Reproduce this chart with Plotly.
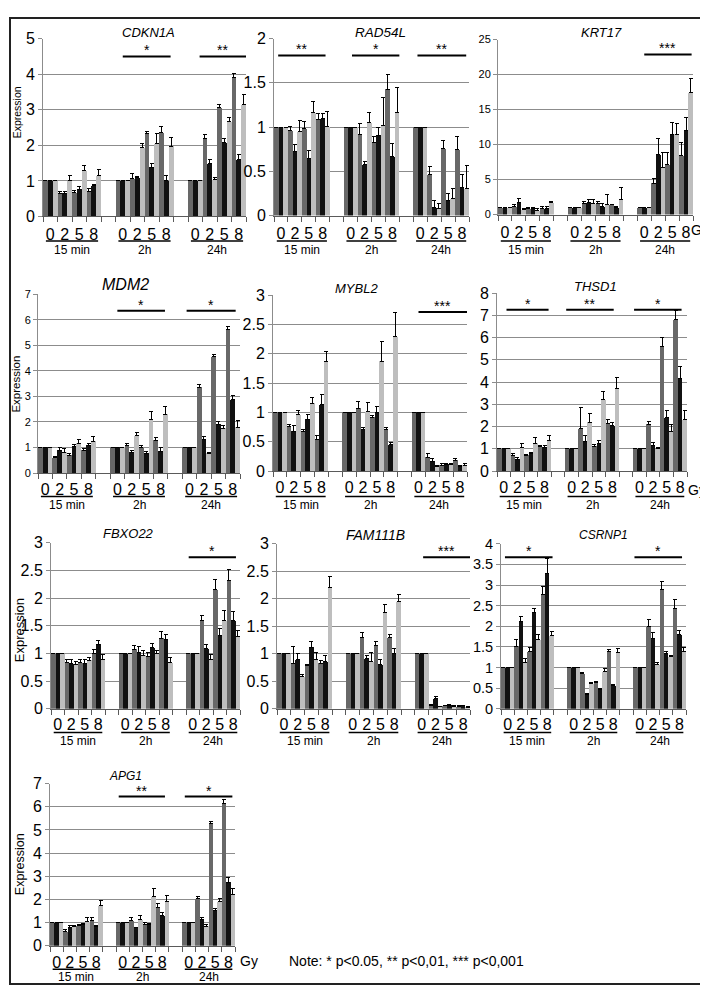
import plotly.graph_objects as go

FIG_W, FIG_H = 708, 988

GENES = ["CDKN1A", "RAD54L", "KRT17", "MDM2", "MYBL2", "THSD1",
         "FBXO22", "FAM111B", "CSRNP1", "APG1"]
TIME_LABELS = ["15 min", "2h", "24h"]
DOSE_LABELS = ["0", "2", "5", "8"]
NOTE_TEXT = "Note: * p<0.05, ** p<0,01, *** p<0,001"

# order of each list: 15 min (0,2,5,8 Gy) | 2h (0,2,5,8) | 24h (0,2,5,8)
CDKN1A_dark = [1, 0.65, 0.68, 0.69, 1, 1.06, 2.33, 2.37, 1, 2.19, 3.05, 3.90]
CDKN1A_dark_err = [0, 0.04, 0.05, 0.10, 0, 0.14, 0.06, 0.15, 0, 0.11, 0.09, 0.11]
CDKN1A_black = [1, 0.66, 0.77, 0.86, 1, 1.09, 1.39, 1.01, 1, 1.50, 2.08, 1.60]
CDKN1A_black_err = [0, 0.05, 0.07, 0.05, 0, 0.03, 0.09, 0.13, 0, 0.09, 0.10, 0.13]
CDKN1A_light = [1, 1.02, 1.28, 1.15, 1, 1.94, 2.04, 1.98, 1, 1.05, 2.67, 3.14]
CDKN1A_light_err = [0, 0.13, 0.14, 0.18, 0, 0.10, 0.30, 0.25, 0, 0.05, 0.12, 0.28]

RAD54L_dark = [1, 0.96, 0.98, 1.08, 1, 0.92, 0.82, 1.43, 1, 0.46, 0.76, 0.75]
RAD54L_dark_err = [0, 0.05, 0.08, 0.07, 0, 0.12, 0.07, 0.16, 0, 0.09, 0.09, 0.14]
RAD54L_black = [1, 0.72, 0.65, 1.10, 1, 0.58, 0.91, 0.67, 1, 0.09, 0.17, 0.32]
RAD54L_black_err = [0, 0.08, 0.08, 0.05, 0, 0.03, 0.09, 0.14, 0, 0.08, 0.08, 0.14]
RAD54L_light = [1, 0.95, 1.16, 1.01, 1, 1.05, 1.02, 1.17, 1, 0.08, 0.19, 0.30]
RAD54L_light_err = [0, 0.12, 0.13, 0.17, 0, 0.12, 0.31, 0.28, 0, 0.06, 0.12, 0.27]

KRT17_dark = [1, 1.2, 0.9, 0.9, 1, 1.6, 1.6, 1.4, 1, 4.5, 7.2, 8.4]
KRT17_dark_err = [0, 0.3, 0.1, 0.3, 0, 0.3, 0.3, 0.1, 0, 0.6, 1.6, 1.9]
KRT17_black = [1, 1.7, 0.8, 0.8, 1, 1.7, 1.2, 1.0, 1, 8.6, 11.5, 12.0]
KRT17_black_err = [0, 0.6, 0.2, 0.4, 0, 0.5, 0.4, 0.1, 0, 2.2, 1.6, 1.8]
KRT17_light = [1, 0.7, 0.6, 1.7, 1, 1.6, 1.5, 2.1, 1, 6.7, 11.5, 17.4]
KRT17_light_err = [0, 0.1, 0.2, 0.1, 0, 0.6, 1.4, 1.8, 0, 2.1, 1.5, 2.0]

MDM2_dark = [1, 0.60, 0.70, 0.90, 1, 1.06, 0.98, 1.28, 1, 3.35, 4.55, 5.62]
MDM2_dark_err = [0, 0.04, 0.06, 0.06, 0, 0.11, 0.08, 0.12, 0, 0.10, 0.10, 0.13]
MDM2_black = [1, 0.90, 1.02, 1.08, 1, 0.82, 0.76, 0.86, 1, 1.33, 1.90, 2.87]
MDM2_black_err = [0, 0.08, 0.08, 0.06, 0, 0.05, 0.08, 0.14, 0, 0.10, 0.10, 0.16]
MDM2_light = [1, 0.82, 1.15, 1.25, 1, 1.45, 2.10, 2.30, 1, 0.78, 1.75, 1.78]
MDM2_light_err = [0, 0.15, 0.17, 0.17, 0, 0.13, 0.30, 0.30, 0, 0.04, 0.10, 0.27]

MYBL2_dark = [1, 0.76, 0.68, 0.53, 1, 1.07, 0.92, 0.71, 1, 0.23, 0.10, 0.18]
MYBL2_dark_err = [0, 0.04, 0.02, 0.07, 0, 0.12, 0.03, 0.03, 0, 0.07, 0.02, 0.03]
MYBL2_black = [1, 0.68, 0.88, 1.13, 1, 0.70, 1.00, 0.45, 1, 0.17, 0.11, 0.08]
MYBL2_black_err = [0, 0.10, 0.09, 0.17, 0, 0.04, 0.10, 0.04, 0, 0.05, 0.02, 0.02]
MYBL2_light = [1, 0.96, 1.16, 1.87, 1, 1.01, 1.87, 2.29, 1, 0.07, 0.11, 0.10]
MYBL2_light_err = [0, 0.07, 0.10, 0.16, 0, 0.16, 0.34, 0.41, 0, 0.02, 0.02, 0.02]

THSD1_dark = [1, 0.70, 0.72, 1.10, 1, 1.90, 1.12, 2.15, 1, 2.10, 5.60, 6.80]
THSD1_dark_err = [0, 0.10, 0.02, 0.05, 0, 0.95, 0.08, 0.15, 0, 0.15, 0.40, 0.40]
THSD1_black = [1, 0.52, 0.78, 1.07, 1, 1.33, 1.25, 2.03, 1, 1.15, 2.40, 4.15]
THSD1_black_err = [0, 0.08, 0.07, 0.08, 0, 0.27, 0.13, 0.17, 0, 0.15, 0.30, 0.55]
THSD1_light = [1, 1.05, 1.25, 1.38, 1, 2.20, 3.20, 3.70, 1, 1.00, 1.80, 2.30]
THSD1_light_err = [0, 0.20, 0.25, 0.22, 0, 0.40, 0.37, 0.50, 0, 0.05, 0.30, 0.40]

FBXO22_dark = [1, 0.83, 0.83, 1.00, 1, 1.08, 0.95, 1.28, 1, 1.60, 2.15, 2.32]
FBXO22_dark_err = [0, 0.07, 0.07, 0.07, 0, 0.06, 0.07, 0.11, 0, 0.08, 0.18, 0.19]
FBXO22_black = [1, 0.82, 0.82, 1.17, 1, 1.02, 1.10, 1.26, 1, 1.09, 1.33, 1.60]
FBXO22_black_err = [0, 0.07, 0.07, 0.06, 0, 0.10, 0.08, 0.08, 0, 0.08, 0.12, 0.15]
FBXO22_light = [1, 0.80, 0.88, 0.90, 1, 0.97, 1.00, 0.83, 1, 0.90, 1.60, 1.30]
FBXO22_light_err = [0, 0.06, 0.04, 0.08, 0, 0.09, 0.05, 0.10, 0, 0.08, 0.17, 0.12]

FAM111B_dark = [1, 0.83, 0.78, 0.83, 1, 1.29, 1.16, 1.29, 1, 0.06, 0.06, 0.04]
FAM111B_dark_err = [0, 0.30, 0.02, 0.05, 0, 0.10, 0.06, 0.07, 0, 0.02, 0.01, 0.02]
FAM111B_black = [1, 0.89, 1.12, 0.86, 1, 0.91, 0.80, 1.00, 1, 0.18, 0.07, 0.06]
FAM111B_black_err = [0, 0.11, 0.10, 0.11, 0, 0.06, 0.10, 0.09, 0, 0.04, 0.01, 0.01]
FAM111B_light = [1, 0.58, 0.90, 2.20, 1, 0.86, 1.76, 1.95, 1, 0.04, 0.05, 0.03]
FAM111B_light_err = [0, 0.04, 0.12, 0.20, 0, 0.16, 0.14, 0.13, 0, 0.01, 0.01, 0.01]

CSRNP1_dark = [1, 1.52, 1.38, 2.76, 1, 0.86, 0.65, 1.38, 1, 2.00, 2.90, 2.43]
CSRNP1_dark_err = [0, 0.16, 0.10, 0.21, 0, 0.02, 0.02, 0.05, 0, 0.16, 0.18, 0.21]
CSRNP1_black = [1, 2.12, 2.33, 3.28, 1, 0.35, 0.47, 0.56, 1, 1.71, 1.33, 1.79]
CSRNP1_black_err = [0, 0.13, 0.11, 0.37, 0, 0.02, 0.03, 0.04, 0, 0.14, 0.05, 0.11]
CSRNP1_light = [1, 1.13, 1.68, 1.77, 1, 0.62, 0.90, 1.37, 1, 1.07, 1.26, 1.38]
CSRNP1_light_err = [0, 0.10, 0.12, 0.10, 0, 0.02, 0.08, 0.09, 0, 0.06, 0.04, 0.11]

APG1_dark = [1, 0.63, 0.88, 1.10, 1, 1.08, 0.93, 1.65, 1, 2.03, 5.28, 6.12]
APG1_dark_err = [0, 0.05, 0.04, 0.10, 0, 0.12, 0.07, 0.17, 0, 0.11, 0.10, 0.18]
APG1_black = [1, 0.80, 0.90, 0.82, 1, 0.78, 0.90, 1.32, 1, 1.12, 1.53, 2.75]
APG1_black_err = [0, 0.06, 0.08, 0.04, 0, 0.02, 0.07, 0.12, 0, 0.08, 0.07, 0.18]
APG1_light = [1, 0.82, 1.05, 1.75, 1, 1.12, 2.12, 1.90, 1, 0.85, 1.92, 2.20]
APG1_light_err = [0, 0.04, 0.15, 0.20, 0, 0.18, 0.33, 0.28, 0, 0.05, 0.13, 0.28]

# significance brackets: (x start, x end, label) in category units
CDKN1A_sig = [(5.0, 8.3, "*"), (10.3, 13.5, "**")]
RAD54L_sig = [(-0.2, 3.2, "**"), (5.1, 8.5, "*"), (9.8, 13.3, "**")]
KRT17_sig = [(10.0, 13.4, "***")]
MDM2_sig = [(5.0, 8.3, "*"), (9.8, 13.2, "*")]
MYBL2_sig = [(10.0, 13.5, "***")]
THSD1_sig = [(0.2, 3.3, "*"), (4.6, 8.1, "**"), (9.6, 13.1, "*")]
FBXO22_sig = [(9.7, 13.2, "*")]
FAM111B_sig = [(10.1, 13.5, "***")]
CSRNP1_sig = [(-0.2, 3.4, "*"), (9.6, 13.2, "*")]
APG1_sig = [(4.7, 8.2, "**"), (9.7, 13.3, "*")]

Y_MAX = {"CDKN1A": 5, "RAD54L": 2, "KRT17": 25, "MDM2": 7, "MYBL2": 3,
         "THSD1": 8, "FBXO22": 3, "FAM111B": 3, "CSRNP1": 4, "APG1": 7}
Y_DTICK = {"CDKN1A": 1, "RAD54L": 0.5, "KRT17": 5, "MDM2": 1, "MYBL2": 0.5,
           "THSD1": 1, "FBXO22": 0.5, "FAM111B": 0.5, "CSRNP1": 0.5, "APG1": 1}

# ---------------- layout / style ----------------
X_POS = [0, 1, 2, 3, 5, 6, 7, 8, 10, 11, 12, 13]
GROUP_START = [0, 5, 10]
# plot boxes in pixels: left, right, top, bottom
BOX = {"CDKN1A": (35, 238, 23, 204), "RAD54L": (266, 461, 23, 203),
       "KRT17": (490, 685, 24, 202), "MDM2": (30, 232, 283, 465),
       "MYBL2": (265, 459, 284, 463), "THSD1": (489, 679, 282, 463),
       "FBXO22": (43, 232, 536, 705), "FAM111B": (269, 462, 537, 705),
       "CSRNP1": (493, 678, 537, 705), "APG1": (42, 227, 781, 946)}
ROW = {"CDKN1A": 0, "RAD54L": 0, "KRT17": 0, "MDM2": 1, "MYBL2": 1, "THSD1": 1,
       "FBXO22": 2, "FAM111B": 2, "CSRNP1": 2, "APG1": 3}
ROW_STANDOFF = [3, 2, 1, 2]
UNDERLINE_Y = [229, 489, 729, 970]
GROUP_LABEL_Y = [238, 498, 738, 978]
TITLE_POS = {"CDKN1A": (140, 17, 13), "RAD54L": (372, 17, 13.5), "KRT17": (593, 17, 13),
             "MDM2": (117, 273, 16), "MYBL2": (348, 277, 13), "THSD1": (587, 275, 13),
             "FBXO22": (120, 527, 13), "FAM111B": (367, 528, 14), "CSRNP1": (595, 528, 12),
             "APG1": (117, 773, 12)}
YTICK_SIZE = {"CDKN1A": 16, "RAD54L": 16, "KRT17": 11, "MDM2": 11, "MYBL2": 16,
              "THSD1": 16, "FBXO22": 16, "FAM111B": 16, "CSRNP1": 14.5, "APG1": 16}
SIG_LEVEL = {"CDKN1A": 0.90, "RAD54L": 0.905, "KRT17": 0.915, "MDM2": 0.907, "MYBL2": 0.904,
             "THSD1": 0.906, "FBXO22": 0.913, "FAM111B": 0.918, "CSRNP1": 0.918, "APG1": 0.92}
EXPR_LABEL = [("CDKN1A", 9, 98, 10.5), ("MDM2", 8, 375, 11.5), ("FBXO22", 11, 625, 13),
              ("APG1", 12, 863, 12.5)]
GY_POS = [(703, 218), (700, 482), (252, 962)]

COLORS = ["#686868", "#111111", "#bebebe"]
FONT = "Liberation Sans, Arial, sans-serif"
GRID = "#8c8c8c"
AXIS = "#5a5a5a"

def px_x(p):
    return p / FIG_W

def px_y(p):
    return 1 - p / FIG_H

fig = go.Figure()
layout = dict(width=FIG_W, height=FIG_H, margin=dict(l=0, r=0, t=0, b=0),
              paper_bgcolor="white", plot_bgcolor="white", barmode="group",
              bargap=0, bargroupgap=0, showlegend=False,
              font=dict(family=FONT, color="black"))
shapes, annotations = [], []

for i, g in enumerate(GENES):
    n = i + 1
    xs = "x" if n == 1 else f"x{n}"
    ys = "y" if n == 1 else f"y{n}"
    series = [(globals()[f"{g}_dark"], globals()[f"{g}_dark_err"]),
              (globals()[f"{g}_black"], globals()[f"{g}_black_err"]),
              (globals()[f"{g}_light"], globals()[f"{g}_light_err"])]
    for s, (vals, errs) in enumerate(series):
        fig.add_trace(go.Bar(
            x=X_POS, y=vals, xaxis=xs, yaxis=ys,
            marker=dict(color=COLORS[s], line=dict(width=0)),
            error_y=dict(type="data", symmetric=False,
                         array=[e if e > 0 else None for e in errs],
                         arrayminus=[0] * len(errs),
                         color="black", thickness=1, width=2),
            hoverinfo="skip"))
    l, r, t, b = BOX[g]
    row = ROW[g]
    layout["xaxis" if n == 1 else f"xaxis{n}"] = dict(
        domain=[px_x(l), px_x(r)], anchor=ys, range=[-0.5, 13.5],
        tickmode="array", tickvals=X_POS, ticktext=DOSE_LABELS * 3,
        ticks="", showline=True, linecolor=AXIS, linewidth=1,
        showgrid=False, zeroline=False, ticklabelstandoff=ROW_STANDOFF[row],
        tickfont=dict(size=16, color="black", family=FONT),
        minor=dict(tickmode="array", tickvals=[k - 0.5 for k in range(15)],
                   ticks="outside", ticklen=5, tickcolor=AXIS, tickwidth=1,
                   showgrid=False),
        fixedrange=True)
    layout["yaxis" if n == 1 else f"yaxis{n}"] = dict(
        domain=[px_y(b), px_y(t)], anchor=xs, range=[0, Y_MAX[g]],
        tick0=0, dtick=Y_DTICK[g], showgrid=True, gridcolor=GRID, gridwidth=1,
        showline=True, linecolor=GRID, linewidth=1, ticks="outside", ticklen=4,
        tickcolor=GRID, zeroline=False,
        tickfont=dict(size=YTICK_SIZE[g], color="black", family=FONT),
        fixedrange=True)
    # title
    tx, ty, tsz = TITLE_POS[g]
    annotations.append(dict(text=f"<i>{g}</i>", x=px_x(tx), y=px_y(ty), xref="paper",
                            yref="paper", showarrow=False, xanchor="center",
                            yanchor="middle", font=dict(size=tsz, color="black")))
    # significance
    for (x0, x1, lab) in globals()[f"{g}_sig"]:
        lvl = SIG_LEVEL[g]
        shapes.append(dict(type="line", xref=xs, yref=f"{ys} domain", x0=x0, x1=x1,
                           y0=lvl, y1=lvl, line=dict(color="black", width=2)))
        annotations.append(dict(text=lab, x=(x0 + x1) / 2, y=lvl, xref=xs,
                                yref=f"{ys} domain", showarrow=False, yanchor="bottom",
                                yshift=-4, font=dict(size=14, color="black")))
    # time-group underlines and labels
    for gs, tl in zip(GROUP_START, TIME_LABELS):
        shapes.append(dict(type="line", xref=xs, yref="paper", x0=gs - 0.3, x1=gs + 3.3,
                           y0=px_y(UNDERLINE_Y[row]), y1=px_y(UNDERLINE_Y[row]),
                           line=dict(color="black", width=1.5)))
        annotations.append(dict(text=tl, x=gs + 1.5, y=px_y(GROUP_LABEL_Y[row]), xref=xs,
                                yref="paper", showarrow=False, xanchor="center",
                                yanchor="middle", font=dict(size=12, color="black")))

for g, ex, ey, esz in EXPR_LABEL:
    annotations.append(dict(text="Expression", x=px_x(ex), y=px_y(ey), xref="paper",
                            yref="paper", showarrow=False, textangle=-90,
                            xanchor="center", yanchor="middle",
                            font=dict(size=esz, color="black")))

for gx, gy in GY_POS:
    annotations.append(dict(text="Gy", x=px_x(gx), y=px_y(gy), xref="paper", yref="paper",
                            showarrow=False, xanchor="right", yanchor="middle",
                            font=dict(size=14, color="black")))

annotations.append(dict(text=NOTE_TEXT, x=px_x(279), y=px_y(962), xref="paper",
                        yref="paper", showarrow=False, xanchor="left", yanchor="middle",
                        font=dict(size=14, color="black")))

shapes.append(dict(type="rect", xref="paper", yref="paper", x0=px_x(2), x1=px_x(705),
                   y0=px_y(985), y1=px_y(2), line=dict(color="#222222", width=2)))

layout["shapes"] = shapes
layout["annotations"] = annotations
fig.update_layout(**layout)
fig.write_html("out.html")
